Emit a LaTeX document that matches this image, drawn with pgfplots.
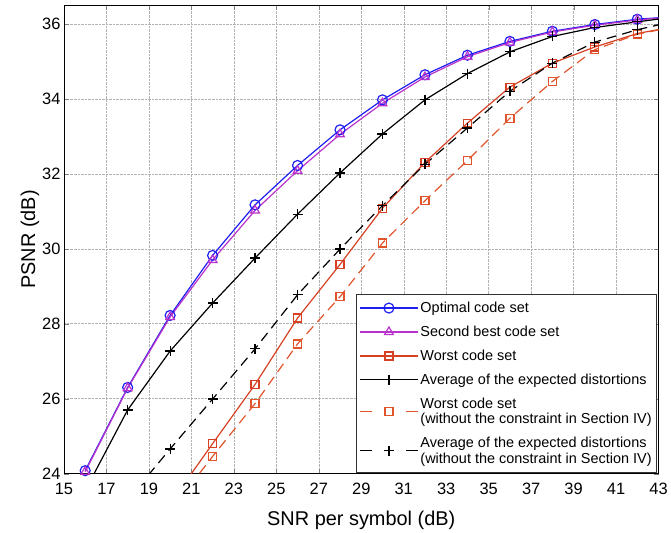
\documentclass[border=0pt]{standalone}
\usepackage{fontspec}
\setmainfont{Liberation Sans}
\usepackage{pgfplots}
\pgfplotsset{compat=1.18}
\definecolor{myblue}{RGB}{30,30,240}
\definecolor{mymag}{RGB}{185,50,205}
\definecolor{myred}{RGB}{215,65,35}
\definecolor{myred2}{RGB}{225,85,45}
\begin{document}
\begin{tikzpicture}
\begin{axis}[
 scale only axis, width=595bp, height=469bp,
 xmin=15, xmax=43, ymin=24, ymax=36.5,
 xtick={15,17,...,43}, ytick={24,26,...,36},
 tick align=inside, xtick pos=both, ytick pos=both,
 major tick length=5bp,
 grid=major, grid style={densely dotted, gray!60},
 /pgf/number format/assume math mode=true,
 tick label style={font=\fontsize{16.5}{18}\selectfont},
 xticklabel style={yshift=-6bp},
 label style={font=\fontsize{20}{22}\selectfont},
 xlabel={SNR per symbol (dB)}, ylabel={PSNR (dB)},
 xlabel style={yshift=-9bp},
 ylabel style={yshift=-4bp},
 legend cell align=left,
 legend style={at={(0.997,0.002)}, anchor=south east, font=\fontsize{14.5}{15.5}\selectfont,
   cells={align=left}, draw=black!80, row sep=8bp, inner ysep=6bp},
 legend image code/.code={\draw[mark repeat=2,mark phase=2] plot coordinates {(0bp,0bp)(29bp,0bp)(58bp,0bp)};},
 every axis plot/.append style={line width=1.2bp},
 after end axis/.code={\path (rel axis cs:0,1) ++(-64bp,5bp); \path (rel axis cs:1,0) ++(12bp,-57bp);},
]
\addplot[color=myblue, mark=o, mark size=5bp] coordinates {
(16,24.08)(18,26.3)(20,28.22)(22,29.82)(24,31.17)(26,32.22)(28,33.17)(30,33.97)(32,34.64)(34,35.16)(36,35.53)(38,35.8)(40,35.98)(42,36.12)(44,36.2)};
\addlegendentry{Optimal code set}
\addplot[color=mymag, mark=triangle, mark size=5bp] coordinates {
(16,24.05)(18,26.28)(20,28.18)(22,29.7)(24,31.02)(26,32.08)(28,33.05)(30,33.88)(32,34.58)(34,35.12)(36,35.5)(38,35.78)(40,35.96)(42,36.1)(44,36.2)};
\addlegendentry{Second best code set}
\addplot[color=myred, mark=square, mark size=4bp] coordinates {
(20,23.2)(22,24.8)(24,26.38)(26,28.15)(28,29.58)(30,31.08)(32,32.3)(34,33.35)(36,34.31)(38,34.95)(40,35.38)(42,35.74)(44,35.95)};
\addlegendentry{Worst code set}
\addplot[color=black, mark=+, mark size=5bp] coordinates {
(16,23.55)(18,25.7)(20,27.27)(22,28.55)(24,29.75)(26,30.92)(28,32.02)(30,33.06)(32,33.97)(34,34.67)(36,35.25)(38,35.66)(40,35.9)(42,36.05)(44,36.2)};
\addlegendentry{Average of the expected distortions}
\addplot[color=myred2, dash pattern=on 10bp off 6bp, mark=square, mark size=4bp, mark options={solid},
 legend image code/.code={\draw[dash pattern=on 12bp off 34bp,mark repeat=2,mark phase=2] plot coordinates {(0bp,0bp)(29bp,0bp)(58bp,0bp)};}] coordinates {
(20,23.0)(22,24.46)(24,25.87)(26,27.46)(28,28.72)(30,30.15)(32,31.28)(34,32.35)(36,33.48)(38,34.46)(40,35.31)(42,35.72)(44,35.95)};
\addlegendentry{Worst code set\\(without the constraint in Section IV)}
\addplot[color=black, dash pattern=on 10bp off 6bp, mark=+, mark size=5bp, mark options={solid},
 legend image code/.code={\draw[dash pattern=on 12bp off 34bp,mark repeat=2,mark phase=2] plot coordinates {(0bp,0bp)(29bp,0bp)(58bp,0bp)};}] coordinates {
(18,23.3)(20,24.66)(22,25.99)(24,27.33)(26,28.77)(28,29.99)(30,31.15)(32,32.25)(34,33.22)(36,34.2)(38,34.95)(40,35.51)(42,35.84)(44,36.1)};
\addlegendentry{Average of the expected distortions\\(without the constraint in Section IV)}
\end{axis}
\end{tikzpicture}
\end{document}
